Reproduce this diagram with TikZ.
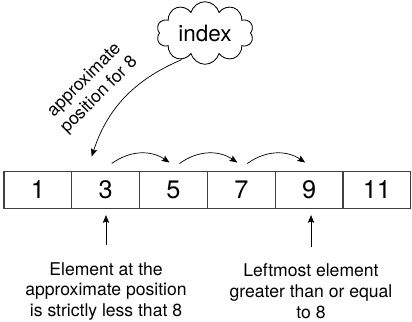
\documentclass[tikz,border=0pt]{standalone}
\usepackage{fontspec}
\setmainfont{TeX Gyre Heros}
\usetikzlibrary{arrows.meta,shapes.symbols}
\tikzset{
  cell/.style={draw=black!75,line width=0.8pt,minimum width=1.695cm,minimum height=0.935cm,
    inner sep=0pt,font=\fontsize{18}{21}\selectfont},
  note/.style={align=center,inner sep=2pt,font=\fontsize{12.5}{14.8}\selectfont},
  pointer/.style={-{Stealth[length=5.5pt,width=4.5pt,inset=1pt]},line width=0.5pt},
}

\begin{document}
\begin{tikzpicture}[x=0.025cm,y=0.025cm]
  \useasboundingbox (0,0) rectangle (412,321);
  % the sorted array
  \foreach \v [count=\i] in {1,3,5,7,9,11}
    \node[cell] (c\i) at ({4+67.8*(\i-0.5)},131.2) {\v};
  % the index and its guess
  \node[cloud,draw,line width=0.6pt,cloud puffs=10,aspect=1.6,minimum width=2.42cm,
    minimum height=1.55cm,inner sep=0pt,font=\fontsize{16}{19}\selectfont] (idx) at (205,288) {index};
  \coordinate (guess) at ([shift={(-14,14)}]c2.north);
  \draw[pointer,shorten <=5pt] (idx.235) to[out=203,in=72] (guess);
  \node[note,rotate=45] (lblPos) at (92,233) {approximate\\position for 8};
  % scan to the right
  \foreach \i/\j in {2/3,3/4,4/5}
    \draw[pointer] ([shift={(6,7)}]c\i.north) to[bend left=35] ([shift={(-4,8)}]c\j.north);
  % notes below the array
  \node[note] (lblA) at (106,29.5) {Element at the\\approximate position\\is strictly less that 8};
  \node[note] (lblB) at (311,29.5) {Leftmost element\\greater than or equal\\to 8};
  \draw[pointer,shorten >=4.3pt] ([yshift=0.35cm]lblA.north) -- (lblA.north |- c2.south);
  \draw[pointer,shorten >=4.3pt] ([yshift=0.35cm]lblB.north) -- (lblB.north |- c5.south);
\end{tikzpicture}
\end{document}
